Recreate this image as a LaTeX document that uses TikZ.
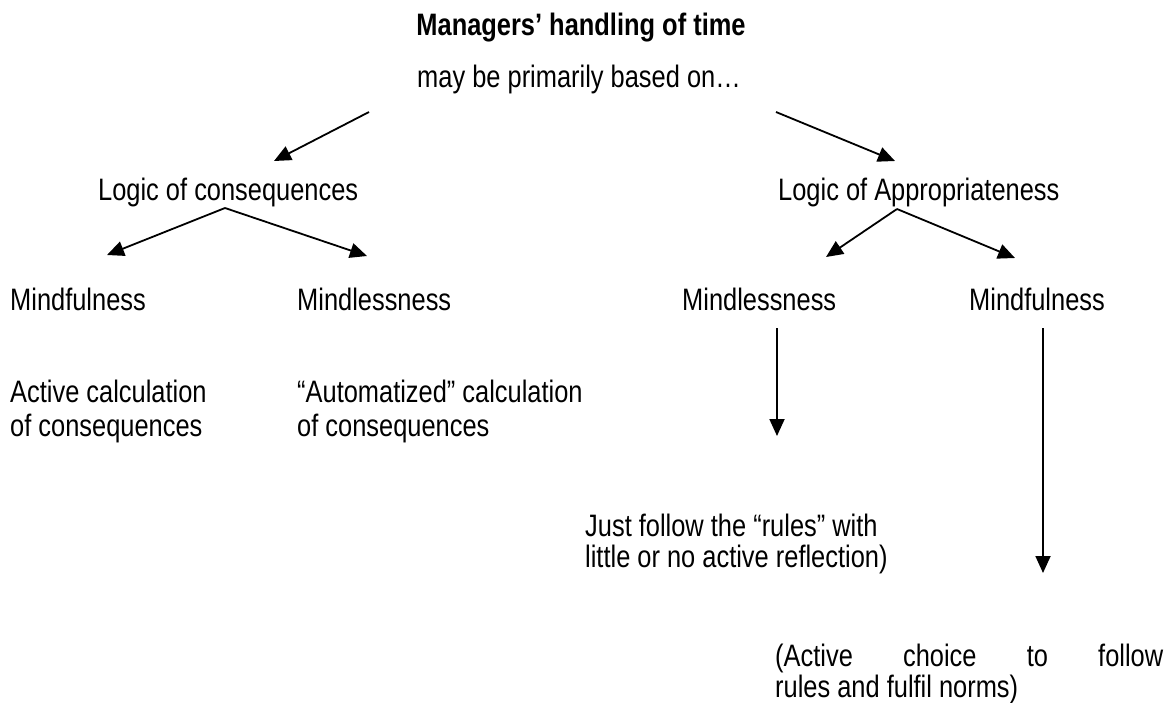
\documentclass[tikz,border=0pt]{standalone}
\usepackage{fontspec}
\setmainfont{Liberation Sans}[FakeStretch=0.82]
\usetikzlibrary{arrows.meta}
\begin{document}
\begin{tikzpicture}[x=1pt,y=-1pt,
  txt/.style={anchor=base west,inner sep=0pt,align=left,
    font=\fontsize{31}{34}\selectfont},
  ctr/.style={anchor=base,inner sep=0pt,font=\fontsize{31}{34}\selectfont},
  arr/.style={line width=1.8pt,-{Triangle[length=17pt,width=15pt]}}]
\useasboundingbox (0,0) rectangle (1167,702);

% heading
\node[ctr,font=\fontsize{31}{34}\selectfont\bfseries] (title) at (581,35) {Managers’ handling of time};
\node[ctr] (sub) at (579,87) {may be primarily based on…};

% the two logics
\node[txt] (lc) at (98,200) {Logic of consequences};
\node[txt] (la) at (778,200) {Logic of Appropriateness};

% second level
\node[txt] (cmf) at (10,310) {Mindfulness};
\node[txt] (cml) at (297,310) {Mindlessness};
\node[txt] (aml) at (682,310) {Mindlessness};
\node[txt] (amf) at (969,310) {Mindfulness};

% descriptions (anchored at the baseline of the last line)
\node[txt] (cmfd) at (10,436) {Active calculation\\of consequences};
\node[txt] (cmld) at (297,436) {“Automatized” calculation\\of consequences};
\node[txt,font=\fontsize{31}{31}\selectfont] (amld) at (585,567)
  {Just follow the “rules” with\\little or no active reflection)};
\node[txt,font=\fontsize{31}{31}\selectfont] (amfd) at (775,697)
  {\hbox to 388pt{(Active\hfil choice\hfil to\hfil follow}\\rules and fulfil norms)};

% arrow end points
\coordinate (s1) at (369,112); \coordinate (e1) at (274,161);
\coordinate (s2) at (776,112); \coordinate (e2) at (895,161);
\coordinate (s3) at (225,208); \coordinate (e3) at (107,255); \coordinate (e4) at (367,256);
\coordinate (s5) at (897,209); \coordinate (e5) at (826,257); \coordinate (e6) at (1015,258);
\coordinate (s7) at (777,328); \coordinate (e7) at (777,436);
\coordinate (s8) at (1043,328); \coordinate (e8) at (1043,573);

\draw[arr] (s1) -- (e1);
\draw[arr] (s2) -- (e2);
\draw[arr] (s3) -- (e3);
\draw[arr] (s3) -- (e4);
\draw[arr] (s5) -- (e5);
\draw[arr] (s5) -- (e6);
\draw[arr] (s7) -- (e7);
\draw[arr] (s8) -- (e8);
\end{tikzpicture}
\end{document}
